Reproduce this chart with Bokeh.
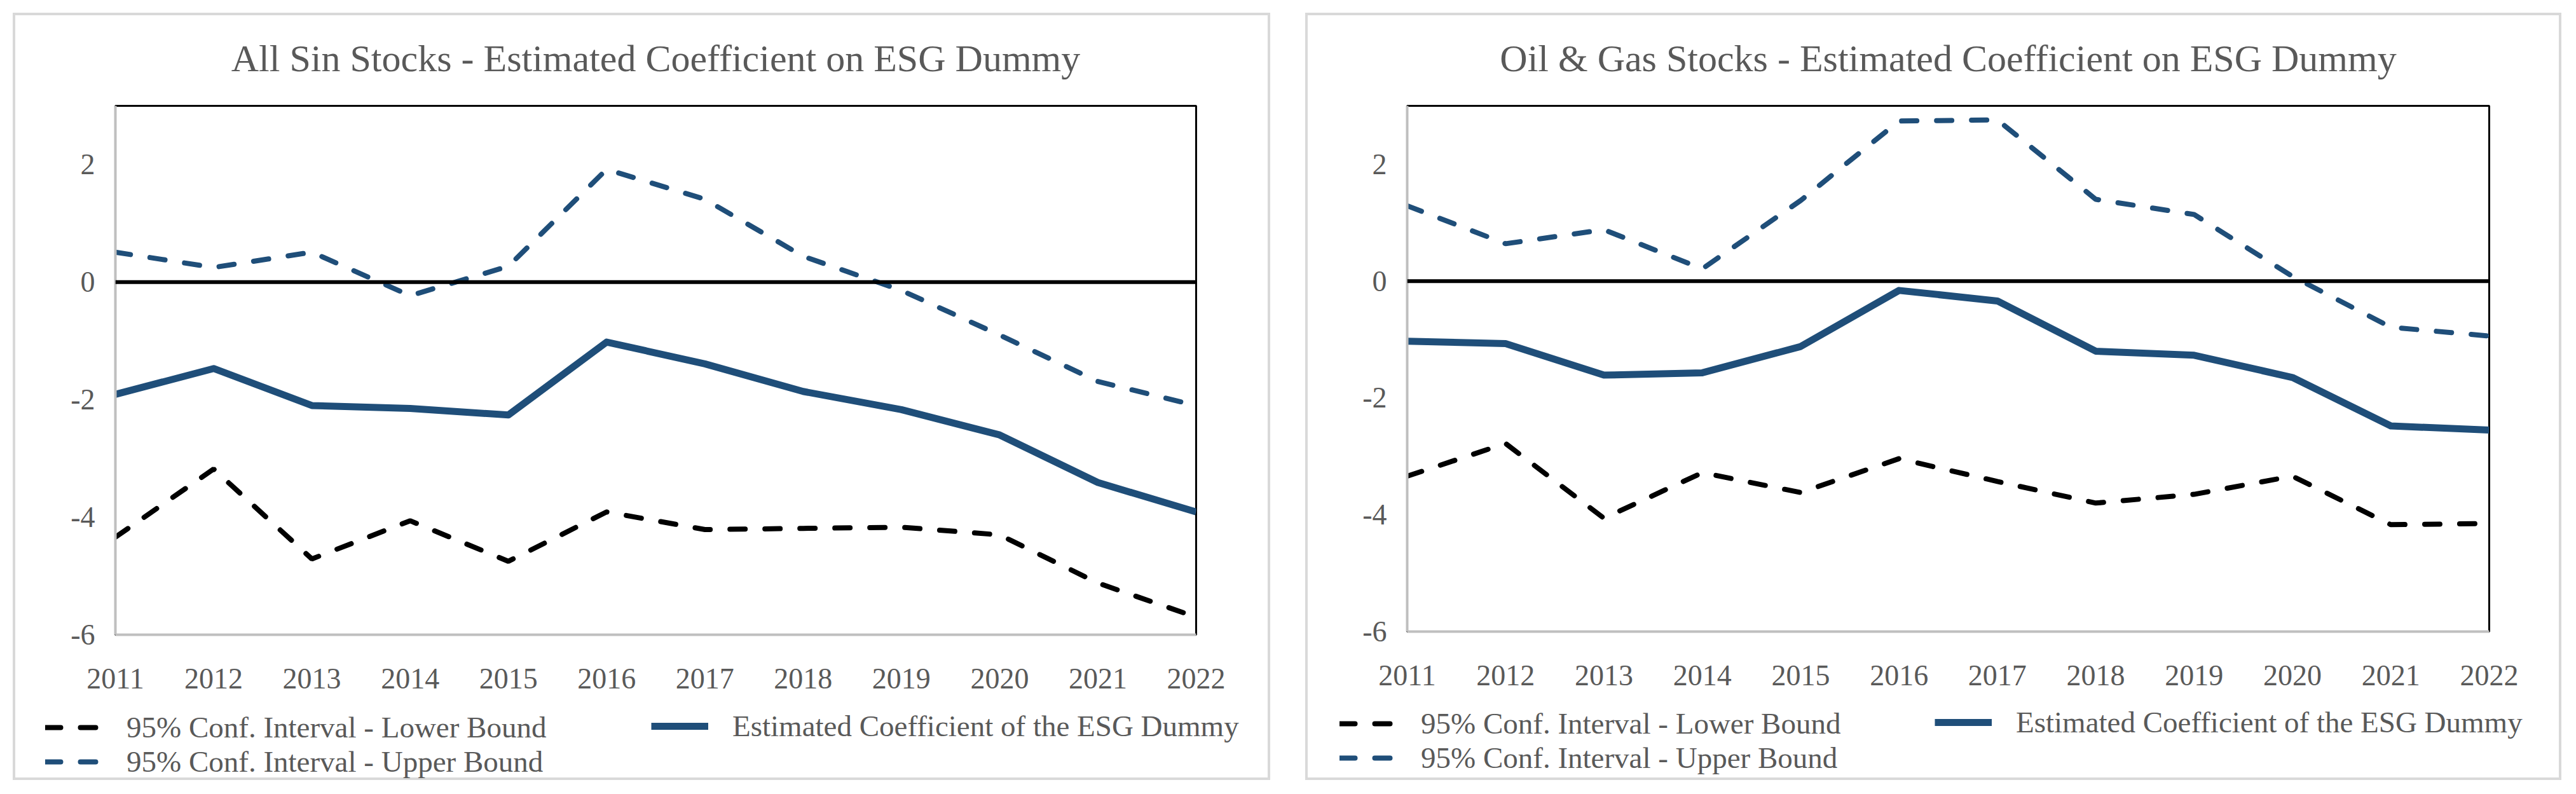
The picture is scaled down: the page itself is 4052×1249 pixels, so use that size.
from bokeh.plotting import figure
from bokeh.models import Range1d, FixedTicker, Span, Legend, LegendItem
from bokeh.layouts import row, column
from bokeh.embed import file_html
from bokeh.resources import INLINE

years = [2011, 2012, 2013, 2014, 2015, 2016, 2017, 2018, 2019, 2020, 2021, 2022]

sin_lower = [-4.34, -3.18, -4.71, -4.06, -4.75, -3.91, -4.21, -4.19, -4.17, -4.30, -5.12, -5.70]
sin_coef = [-1.91, -1.47, -2.10, -2.15, -2.26, -1.02, -1.39, -1.86, -2.17, -2.60, -3.41, -3.91]
sin_upper = [0.51, 0.25, 0.51, -0.23, 0.27, 1.92, 1.41, 0.44, -0.14, -0.90, -1.69, -2.10]

oil_lower = [-3.34, -2.78, -4.06, -3.28, -3.62, -3.04, -3.43, -3.80, -3.65, -3.34, -4.17, -4.15]
oil_coef = [-1.03, -1.07, -1.61, -1.57, -1.12, -0.16, -0.34, -1.20, -1.27, -1.65, -2.48, -2.55]
oil_upper = [1.29, 0.64, 0.88, 0.21, 1.38, 2.74, 2.76, 1.40, 1.14, 0.08, -0.79, -0.94]

y_ticks = [-6, -4, -2, 0, 2]

label_lower = "95% Conf. Interval - Lower Bound"
label_coef = "Estimated Coefficient of the ESG Dummy"
label_upper = "95% Conf. Interval - Upper Bound"

FONT = "Liberation Serif"
TEXT = "#595959"
BLUE = "#1F4E79"
HC = 1090   # chart part height
HL = 141    # legend part height

DASH = dict(line_width=8, line_dash="24 31", line_cap="round")
SOLID = dict(line_width=11, line_join="round")


def styled_lines(p, lower, coef, upper):
    r_up = p.line(years, upper, line_color=BLUE, **DASH)
    r_lo = p.line(years, lower, line_color="black", **DASH)
    r_co = p.line(years, coef, line_color=BLUE, **SOLID)
    return r_lo, r_co, r_up


def make_chart(title, lower, coef, upper, width, fl, fr, ft, fb):
    p = figure(width=width, height=HC, output_backend="svg", toolbar_location=None,
               x_range=Range1d(2011, 2022), y_range=Range1d(-6, 3),
               min_border_left=fl, min_border_right=fr,
               min_border_top=ft, min_border_bottom=fb,
               background_fill_color=None, border_fill_color=None)
    p.title.text = title
    p.title.align = "center"
    p.title.text_font = FONT
    p.title.text_font_size = "60px"
    p.title.text_font_style = "normal"
    p.title.text_color = TEXT
    p.title.standoff = 84

    p.xgrid.visible = False
    p.ygrid.visible = False
    p.outline_line_color = "black"
    p.outline_line_width = 3

    for ax in (p.xaxis[0], p.yaxis[0]):
        ax.axis_line_color = "#BFBFBF"
        ax.axis_line_width = 4
        ax.major_tick_line_color = None
        ax.minor_tick_line_color = None
        ax.major_label_text_font = FONT
        ax.major_label_text_font_size = "46px"
        ax.major_label_text_color = TEXT
    p.xaxis.ticker = FixedTicker(ticks=years)
    p.xaxis.major_label_overrides = {y: str(y) for y in years}
    p.xaxis.major_label_standoff = 47
    p.yaxis.ticker = FixedTicker(ticks=y_ticks)
    p.yaxis.major_label_overrides = {t: str(t) for t in y_ticks}
    p.yaxis.major_label_standoff = 26

    p.add_layout(Span(location=0, dimension="width", line_color="black", line_width=6))
    styled_lines(p, lower, coef, upper)
    return p


def make_legend(width, lower, coef, upper, ax, ay, bx, by):
    # the same series drawn out of view: they only feed the legend swatches
    q = figure(width=width, height=HL, output_backend="svg", toolbar_location=None,
               x_range=Range1d(0, 1), y_range=Range1d(0, 1),
               min_border=0, x_axis_type=None, y_axis_type=None,
               background_fill_color=None, border_fill_color=None, outline_line_color=None)
    q.xgrid.visible = False
    q.ygrid.visible = False
    r_lo, r_co, r_up = styled_lines(q, lower, coef, upper)
    common = dict(border_line_color=None, background_fill_alpha=0, padding=0, margin=0,
                  label_text_font=FONT, label_text_font_size="47px", label_text_color=TEXT,
                  glyph_width=90, glyph_height=40, label_height=40,
                  spacing=0, label_standoff=38)
    legA = Legend(items=[LegendItem(label=label_lower, renderers=[r_lo]),
                         LegendItem(label=label_upper, renderers=[r_up])],
                  location=(ax, ay), **common)
    legB = Legend(items=[LegendItem(label=label_coef, renderers=[r_co])],
                  location=(bx, by), **common)
    q.add_layout(legA, "center")
    q.add_layout(legB, "center")
    return q


BOX = {"background-color": "white",
       "box-shadow": "inset 0 0 0 12px white, inset 0 0 0 16px #D9D9D9"}

c1 = make_chart("All Sin Stocks - Estimated Coefficient on ESG Dummy", sin_lower, sin_coef, sin_upper,
                2002, 173, 129, 158, 100)
l1 = make_legend(2002, sin_lower, sin_coef, sin_upper, 63, 14, 1016, 70)
c2 = make_chart("Oil & Gas Stocks - Estimated Coefficient on ESG Dummy", oil_lower, oil_coef, oil_upper,
                2000, 172, 126, 158, 105)
l2 = make_legend(2000, oil_lower, oil_coef, oil_upper, 66, 20, 1002, 76)

panel1 = column(c1, row(l1), spacing=0, styles=BOX)
panel2 = column(c2, row(l2), spacing=0, styles=BOX)
layout = row(panel1, panel2, spacing=31, margin=(8, 0, 0, 8))
open("out.html", "w").write(file_html(layout, INLINE))
